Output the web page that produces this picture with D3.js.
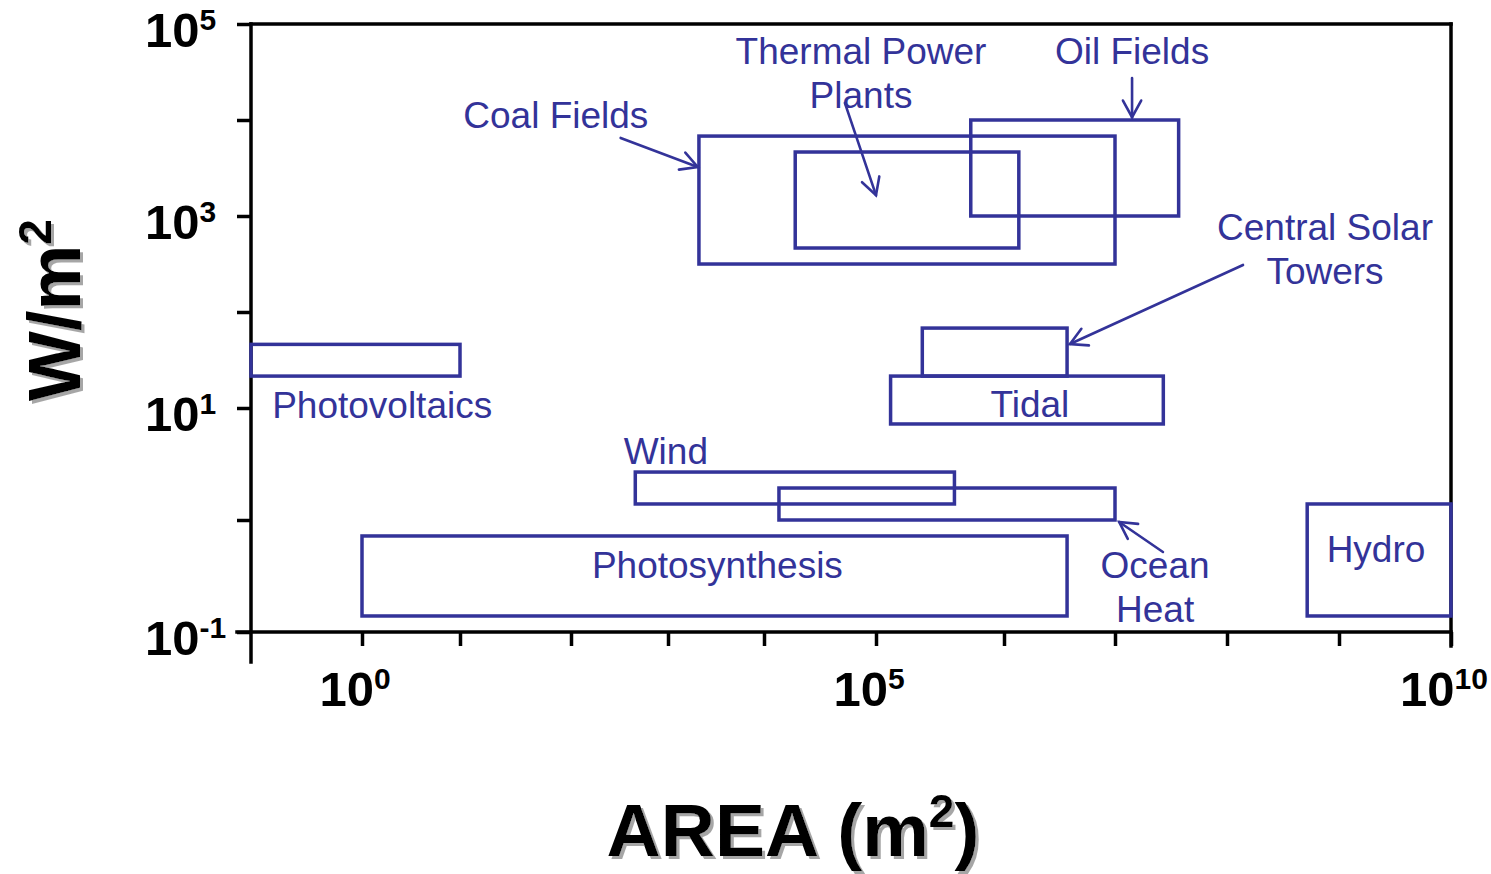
<!DOCTYPE html>
<html>
<head>
<meta charset="utf-8">
<script src="https://cdn.jsdelivr.net/npm/d3@7"></script>
<style>
  html, body { margin: 0; padding: 0; background: #fff; }
  svg { display: block; }
</style>
</head>
<body>
<svg id="chart" width="1491" height="874"></svg>
<script>
// Power density (W/m²) versus land area (m²) of energy sources
const sources    = ["Coal Fields", "Thermal Power Plants", "Oil Fields", "Central Solar Towers", "Tidal",
                    "Photovoltaics", "Wind", "Ocean Heat", "Photosynthesis", "Hydro"];
const areaMin    = [2.1e3, 1.9e4, 5.5e5, 2.3e5, 1.3e5, 0.1, 4.6e2, 1.36e4, 1, 5.2e8];
const areaMax    = [1e7, 1.36e6, 3.7e7, 3.7e6, 2.7e7, 10, 4.1e5, 1e7, 3.7e6, 1e10];
const densityMin = [316, 464, 1e3, 21.5, 7.2, 21.5, 1.39, 1, 0.139, 0.139];
const densityMax = [6.8e3, 4.64e3, 1e4, 68, 21.5, 46, 2.68, 1.93, 0.72, 1.39];

// Label text for each source and its anchor (data units)
const labelLines  = [["Coal Fields"], ["Thermal Power", "Plants"], ["Oil Fields"], ["Central Solar", "Towers"], ["Tidal"],
                     ["Photovoltaics"], ["Wind"], ["Ocean", "Heat"], ["Photosynthesis"], ["Hydro"]];
const labelArea    = [73, 7.35e4, 1.42e7, 7.5e8, 1.71e6, 0.155, 950, 2.28e7, 3.27e3, 2.14e9];
const labelDensity = [8.25e3, 3.83e4, 3.83e4, 562, 8.3, 8.15, 3.16, 0.303, 0.303, 0.42];
const labelAlign   = ["middle", "middle", "middle", "middle", "middle", "start", "middle", "middle", "middle", "middle"];

// Pointer arrows from a label to its box (data units)
const arrowSource     = ["Coal Fields", "Thermal Power Plants", "Oil Fields", "Central Solar Towers", "Ocean Heat"];
const arrowFromArea   = [325, 5.28e4, 1.42e7, 1.39e8, 2.68e7];
const arrowFromDens   = [6.5e3, 1.5e4, 2.74e4, 309, 0.518];
const arrowToArea     = [2.04e3, 1e5, 1.42e7, 3.93e6, 1.09e7];
const arrowToDens     = [3.24e3, 1.65e3, 1.07e4, 46.4, 0.96];

// Axis decades and labelled ticks
const xDecades   = [0.1, 1, 10, 100, 1e3, 1e4, 1e5, 1e6, 1e7, 1e8, 1e9, 1e10];
const yDecades   = [0.1, 1, 10, 100, 1e3, 1e4, 1e5];
const xTickValues = [1, 10, 100, 1e3, 1e4, 1e5, 1e6, 1e7, 1e8, 1e9, 1e10];
const yTickValues = [0.1, 1, 10, 100, 1e3, 1e4, 1e5];
const xLabelValues = [1, 1e5, 1e10];
const xLabelExps   = ["0", "5", "10"];
const yLabelValues = [1e5, 1e3, 10, 0.1];
const yLabelExps   = ["5", "3", "1", "-1"];

const BLUE = "#333399";
const svg = d3.select("#chart");

// Flat grey drop shadow for the axis titles
const shadow = svg.append("defs").append("filter")
  .attr("id", "titleShadow").attr("x", "-10%").attr("y", "-10%").attr("width", "130%").attr("height", "130%");
shadow.append("feOffset").attr("in", "SourceAlpha").attr("dx", 3).attr("dy", 3).attr("result", "off");
shadow.append("feFlood").attr("flood-color", "#a6a6a6").attr("result", "grey");
shadow.append("feComposite").attr("in", "grey").attr("in2", "off").attr("operator", "in").attr("result", "shade");
const merge = shadow.append("feMerge");
merge.append("feMergeNode").attr("in", "shade");
merge.append("feMergeNode").attr("in", "SourceGraphic");

// Decade positions along each axis (the drawn axes are not evenly spaced)
const x = d3.scaleLog()
  .domain(xDecades)
  .range([251, 362, 460, 571, 668, 764, 876, 1004, 1115, 1227, 1339, 1451]);
const y = d3.scaleLog()
  .domain(yDecades)
  .range([632, 520, 408, 312, 216, 120, 24]);

const plotLeft = x(0.1), plotRight = x(1e10), plotTop = y(1e5), plotBottom = y(0.1);
const TICK = 14;

// Tick marks
const xAxis = svg.append("g")
  .attr("transform", `translate(0,${plotBottom})`)
  .call(d3.axisBottom(x).tickValues(xTickValues).tickSize(TICK).tickFormat(""));
const yAxis = svg.append("g")
  .attr("transform", `translate(${plotLeft},0)`)
  .call(d3.axisLeft(y).tickValues(yTickValues).tickSize(TICK).tickFormat(""));
[xAxis, yAxis].forEach(a => {
  a.select(".domain").remove();
  a.selectAll(".tick line").attr("stroke", "#000").attr("stroke-width", 3.5);
});

// Frame: left axis runs past the bottom axis, right edge doubles as last tick
const frame = svg.append("g").attr("stroke", "#000").attr("stroke-width", 3.5).attr("stroke-linecap", "square");
frame.append("line").attr("x1", plotLeft).attr("x2", plotLeft).attr("y1", plotTop).attr("y2", plotBottom + 30);
frame.append("line").attr("x1", plotLeft - TICK).attr("x2", plotRight).attr("y1", plotBottom).attr("y2", plotBottom);
frame.append("line").attr("x1", plotLeft).attr("x2", plotRight).attr("y1", plotTop).attr("y2", plotTop);
frame.append("line").attr("x1", plotRight).attr("x2", plotRight).attr("y1", plotTop).attr("y2", plotBottom + TICK);

// Tick labels with exponent superscripts
const fontFamily = "'Liberation Sans', Arial, Helvetica, sans-serif";
function powerLabel(sel, exp) {
  sel.append("tspan").text("10");
  sel.append("tspan").attr("font-size", 30).attr("dy", -17).text(exp);
}
xLabelValues.forEach((v, i) => {
  const t = svg.append("text")
    .attr("x", x(v) - 7).attr("y", plotBottom + 74)
    .attr("text-anchor", "middle")
    .attr("font-family", fontFamily).attr("font-weight", "bold").attr("font-size", 49)
    .attr("fill", "#000");
  powerLabel(t, xLabelExps[i]);
});
yLabelValues.forEach((v, i) => {
  const t = svg.append("text")
    .attr("x", 145).attr("y", y(v) + 23)
    .attr("text-anchor", "start")
    .attr("font-family", fontFamily).attr("font-weight", "bold").attr("font-size", 49)
    .attr("fill", "#000");
  powerLabel(t, yLabelExps[i]);
});

// Source boxes
svg.append("g").selectAll("rect")
  .data(sources)
  .join("rect")
  .attr("x", (d, i) => x(areaMin[i]))
  .attr("y", (d, i) => y(densityMax[i]))
  .attr("width", (d, i) => x(areaMax[i]) - x(areaMin[i]))
  .attr("height", (d, i) => y(densityMin[i]) - y(densityMax[i]))
  .attr("fill", "none")
  .attr("stroke", BLUE)
  .attr("stroke-width", 3.5);

// Source labels
const labels = svg.append("g")
  .attr("font-family", fontFamily).attr("font-size", 37).attr("fill", BLUE);
sources.forEach((s, i) => {
  const t = labels.append("text")
    .attr("x", x(labelArea[i])).attr("y", y(labelDensity[i]))
    .attr("text-anchor", labelAlign[i]);
  labelLines[i].forEach((line, j) => {
    t.append("tspan").attr("x", x(labelArea[i])).attr("dy", j === 0 ? 0 : 44).text(line);
  });
});

// Pointer arrows with open heads
const arrows = svg.append("g").attr("stroke", BLUE).attr("stroke-width", 2.6).attr("fill", "none")
  .attr("stroke-linecap", "round");
arrowSource.forEach((s, i) => {
  const x0 = x(arrowFromArea[i]), y0 = y(arrowFromDens[i]);
  const x1 = x(arrowToArea[i]),   y1 = y(arrowToDens[i]);
  const a = Math.atan2(y1 - y0, x1 - x0);
  const len = 19, spread = 0.5;
  arrows.append("line").attr("x1", x0).attr("y1", y0).attr("x2", x1).attr("y2", y1);
  arrows.append("path").attr("d",
    `M${x1 - len * Math.cos(a - spread)},${y1 - len * Math.sin(a - spread)}` +
    `L${x1},${y1}` +
    `L${x1 - len * Math.cos(a + spread)},${y1 - len * Math.sin(a + spread)}`);
});

// Axis titles (shadow filter sits on an unrotated group so it falls down-right)
function titleText(g, parts, size) {
  const t = g.append("text")
    .attr("text-anchor", "middle").attr("fill", "#000")
    .attr("font-family", fontFamily).attr("font-weight", "bold").attr("font-size", size);
  t.append("tspan").text(parts[0]);
  t.append("tspan").attr("font-size", 46).attr("dy", -29).text("2");
  if (parts[1]) t.append("tspan").attr("dy", 29).text(parts[1]);
  return t;
}
const xTitle = svg.append("g").attr("filter", "url(#titleShadow)")
  .attr("transform", "translate(793,856)");
titleText(xTitle, ["AREA (m", ")"], 75);
const yTitle = svg.append("g").attr("filter", "url(#titleShadow)")
  .attr("transform", "translate(80,310)")
  .append("g").attr("transform", "rotate(-90)");
titleText(yTitle, ["W/m"], 74);
</script>
</body>
</html>
